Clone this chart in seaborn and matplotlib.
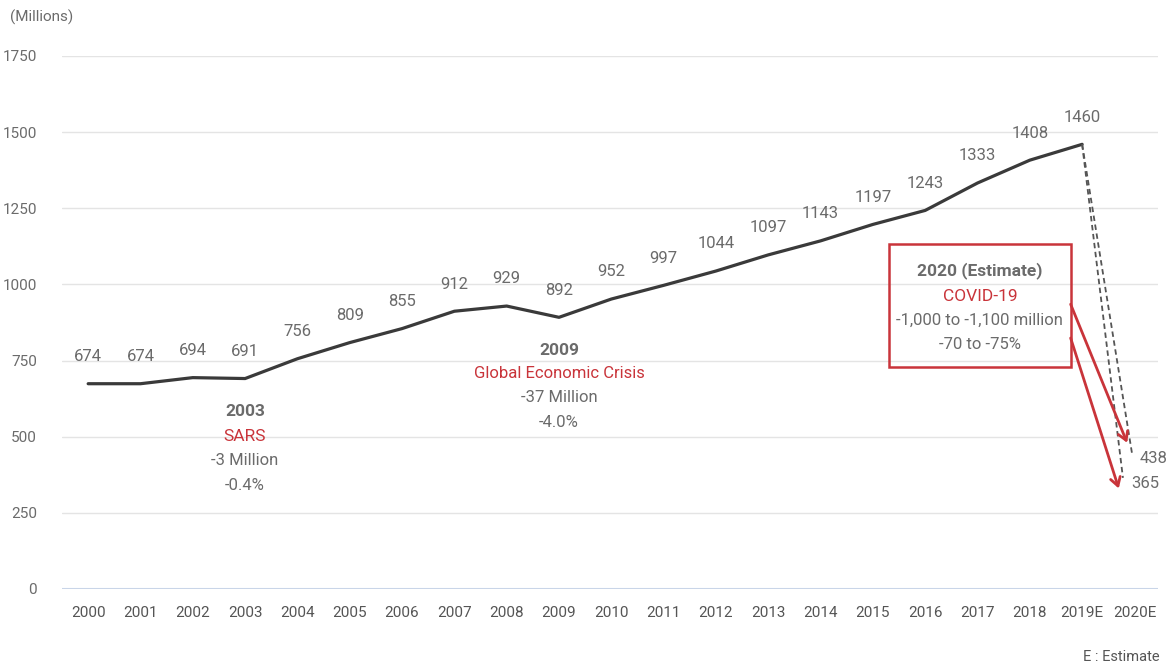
import matplotlib
matplotlib.use("Agg")
import matplotlib.pyplot as plt
import seaborn as sns
import pandas as pd
from matplotlib.patches import Rectangle

years = ["2000", "2001", "2002", "2003", "2004", "2005", "2006", "2007", "2008", "2009",
         "2010", "2011", "2012", "2013", "2014", "2015", "2016", "2017", "2018", "2019E", "2020E"]
arrivals = [674, 674, 694, 691, 756, 809, 855, 912, 929, 892,
            952, 997, 1044, 1097, 1143, 1197, 1243, 1333, 1408, 1460]
estimate_2020 = [438, 365]
y_ticks = [0, 250, 500, 750, 1000, 1250, 1500, 1750]

GRAY_TXT = "#6b6b6b"
RED = "#c9343a"
LINE = "#3a3a3a"

sns.set_theme(style="white")
plt.rcParams['font.family'] = ['Roboto', 'DejaVu Sans']

fig = plt.figure(figsize=(11.71, 6.69), dpi=100)
ax = fig.add_axes([62/1171, 1 - 589/669, (1158-62)/1171, (589-56)/669])

df = pd.DataFrame({"x": list(range(len(arrivals))), "y": arrivals})
sns.lineplot(data=df, x="x", y="y", ax=ax, color=LINE, linewidth=2.3)

# dashed 2020 estimate lines
i19 = len(arrivals) - 1
i20 = len(years) - 1
offsets = [-0.04, -0.22]
for val, off in zip(estimate_2020, offsets):
    d = pd.DataFrame({"x": [i19, i20 + off], "y": [arrivals[-1], val]})
    sns.lineplot(data=d, x="x", y="y", ax=ax, color="#555555", linewidth=1.3,
                 linestyle=(0, (3, 2)))

# data labels
for i, v in enumerate(arrivals):
    ax.annotate(str(v), (i, v), xytext=(0, 19.5), textcoords="offset points",
                ha="center", va="center", fontsize=12, color=GRAY_TXT)
ax.annotate(str(estimate_2020[0]), (i20 + offsets[0], estimate_2020[0]), xytext=(5, -2),
            textcoords="offset points", ha="left", va="center", fontsize=12, color=GRAY_TXT)
ax.annotate(str(estimate_2020[1]), (i20 + offsets[1], estimate_2020[1]), xytext=(6, -4),
            textcoords="offset points", ha="left", va="center", fontsize=12, color=GRAY_TXT)

# grid
for t in y_ticks[1:]:
    ax.axhline(t, color="#e4e4e4", linewidth=1, zorder=0)
ax.axhline(0, color="#c9d5e8", linewidth=1.5, zorder=0)

ax.set_xlim(-0.5, 20.45)
ax.set_ylim(0, 1750)
ax.set_yticks(y_ticks)
ax.set_yticklabels([str(t) for t in y_ticks])
ax.set_xticks(range(len(years)))
ax.set_xticklabels(years)
ax.tick_params(axis="y", length=0, pad=18, labelsize=11, labelcolor=GRAY_TXT)
ax.tick_params(axis="x", length=0, pad=12, labelsize=11, labelcolor="#555555")
for s in ax.spines.values():
    s.set_visible(False)
ax.set_xlabel("")
ax.set_ylabel("")
ax.grid(False)

# 2003 annotation
x03 = years.index("2003")
ax.text(x03, 582, "2003", ha="center", va="center", fontsize=12.5, fontweight="bold", color=GRAY_TXT)
ax.text(x03, 500, "SARS", ha="center", va="center", fontsize=12.5, color=RED)
ax.text(x03, 421, "-3 Million", ha="center", va="center", fontsize=12, color=GRAY_TXT)
ax.text(x03, 339, "-0.4%", ha="center", va="center", fontsize=12, color=GRAY_TXT)

# 2009 annotation
x09 = years.index("2009")
ax.text(x09, 784, "2009", ha="center", va="center", fontsize=12.5, fontweight="bold", color=GRAY_TXT)
ax.text(x09, 709, "Global Economic Crisis", ha="center", va="center", fontsize=12, color=RED)
ax.text(x09, 630, "-37 Million", ha="center", va="center", fontsize=12, color=GRAY_TXT)
ax.text(x09, 548, "-4.0%", ha="center", va="center", fontsize=12, color=GRAY_TXT)

# 2020 box
ax.add_patch(Rectangle((15.31, 729), 18.78 - 15.31, 1133 - 729, fill=False,
                       edgecolor=RED, linewidth=1.8, zorder=3))
bx = (15.31 + 18.78) / 2
ax.text(bx, 1044, "2020 (Estimate)", ha="center", va="center", fontsize=12.5, fontweight="bold", color=GRAY_TXT)
ax.text(bx, 962, "COVID-19", ha="center", va="center", fontsize=12.5, color=RED)
ax.text(bx, 883, "-1,000 to -1,100 million", ha="center", va="center", fontsize=12, color=GRAY_TXT)
ax.text(bx, 804, "-70 to -75%", ha="center", va="center", fontsize=12, color=GRAY_TXT)

ax.annotate("", xy=(19.86, 480), xytext=(18.78, 935),
            arrowprops=dict(arrowstyle="->,head_length=0.5,head_width=0.3", color=RED, lw=2,
                            shrinkA=0, shrinkB=0))
ax.annotate("", xy=(19.7, 330), xytext=(18.78, 824),
            arrowprops=dict(arrowstyle="->,head_length=0.5,head_width=0.3", color=RED, lw=2,
                            shrinkA=0, shrinkB=0))

fig.text(10/1171, 1 - 17/669, "(Millions)", ha="left", va="center", fontsize=11, color=GRAY_TXT)
fig.text(1160/1171, 1 - 657/669, "E : Estimate", ha="right", va="center", fontsize=10.5, color="#555555")

fig.savefig("out.png", dpi=100, facecolor="white")
